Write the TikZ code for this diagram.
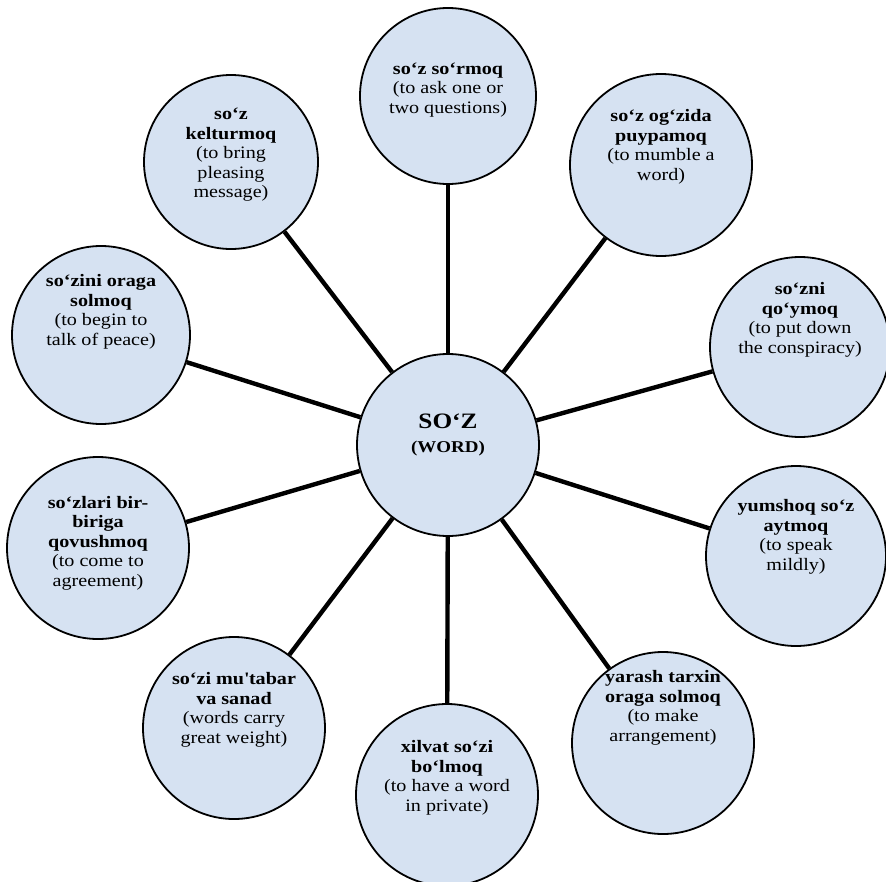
\documentclass[tikz,border=0pt]{standalone}
\usepackage{fontspec}
\setmainfont{Liberation Serif}[FakeStretch=1.15]
\usepackage{xcolor}
\usetikzlibrary{positioning}

\definecolor{bubblefill}{RGB}{214,226,242}

\begin{document}
\begin{tikzpicture}[
            x=1pt, y=-1pt,
            bubble/.style={circle, draw, line width=1.8pt, fill=bubblefill, minimum size=180pt, inner sep=0pt},
            caption/.style={align=center, font=\fontsize{17.5}{19.5}\selectfont},
            spoke/.style={line width=4.4pt}
        ]
        \useasboundingbox (0,0) rectangle (886,881);

        % the middle word
        \node[bubble, minimum size=182pt] (word) at (448,445) {};
        \node[align=center, font=\fontsize{22}{24}\selectfont\bfseries] at ([yshift=10pt]word.center)
            {SO‘Z\\{\fontsize{16.5}{18}\selectfont (WORD)}};

        % phrases round it, clockwise from the top
        \node[bubble, minimum size=176pt] (sormoq) at (448,96) {};
        \node[caption] at ([yshift=6pt]sormoq.center) {\textbf{so‘z so‘rmoq}\\(to ask one or\\two questions)};

        \node[bubble, minimum size=182pt] (ogzida) at (661,165) {};
        \node[caption] at ([yshift=18pt]ogzida.center) {\textbf{so‘z og‘zida}\\\textbf{puypamoq}\\(to mumble a\\word)};

        \node[bubble, minimum size=180pt] (qoymoq) at (800,347) {};
        \node[caption] at ([yshift=27pt]qoymoq.center) {\textbf{so‘zni}\\\textbf{qo‘ymoq}\\(to put down\\the conspiracy)};

        \node[bubble, minimum size=180pt] (yumshoq) at (796,556) {};
        \node[caption] at ([yshift=19pt]yumshoq.center) {\textbf{yumshoq so‘z}\\\textbf{aytmoq}\\(to speak\\mildly)};

        \node[bubble, minimum size=182pt] (yarash) at (663,743) {};
        \node[caption] at ([yshift=35pt]yarash.center) {\textbf{yarash tarxin}\\\textbf{oraga solmoq}\\(to make\\arrangement)};

        \node[bubble, minimum size=182pt] (xilvat) at (447,795) {};
        \node[caption] at ([yshift=17pt]xilvat.center) {\textbf{xilvat so‘zi}\\\textbf{bo‘lmoq}\\(to have a word\\in private)};

        \node[bubble, minimum size=182pt] (mutabar) at (234,728) {};
        \node[caption] at ([yshift=18pt]mutabar.center) {\textbf{so‘zi mu\textquotesingle tabar}\\\textbf{va sanad}\\(words carry\\great weight)};

        \node[bubble, minimum size=182pt] (birbiriga) at (98,548) {};
        \node[caption] at ([yshift=5pt]birbiriga.center) {\textbf{so‘zlari bir-}\\\textbf{biriga}\\\textbf{qovushmoq}\\(to come to\\agreement)};

        \node[bubble, minimum size=178pt] (oraga) at (101,335) {};
        \node[caption] at ([yshift=23pt]oraga.center) {\textbf{so‘zini oraga}\\\textbf{solmoq}\\(to begin to\\talk of peace)};

        \node[bubble, minimum size=174pt] (kelturmoq) at (231,162) {};
        \node[caption] at ([yshift=7pt]kelturmoq.center) {\textbf{so‘z}\\\textbf{kelturmoq}\\(to bring\\pleasing\\message)};

        % spokes
        \foreach \leaf in {sormoq, ogzida, qoymoq, yumshoq, yarash, xilvat, mutabar, birbiriga, oraga, kelturmoq}
            \draw[spoke] (word) -- (\leaf);
\end{tikzpicture}
\end{document}
